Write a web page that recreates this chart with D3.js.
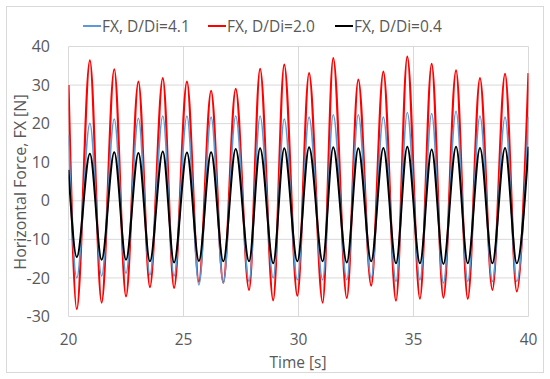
<!DOCTYPE html>
<html>
<head>
<meta charset="utf-8">
<script src="https://cdn.jsdelivr.net/npm/d3@7"></script>
<style>
  body { margin: 0; background: #fff; }
  svg text { font-family: "Open Sans", sans-serif; fill: #595959; }
</style>
</head>
<body>
<div id="chart"></div>
<script>
// Times of start, troughs, peaks (alternating) and end
let times = [20, 20.36, 20.93, 21.44, 21.99, 22.5, 23.04, 23.54, 24.1, 24.59, 25.15,
    25.67, 26.2, 26.73, 27.27, 27.85, 28.33, 28.9, 29.38, 29.95, 30.46, 31.05, 31.51,
    32.1, 32.6, 33.16, 33.69, 34.24, 34.73, 35.28, 35.79, 36.3, 36.85, 37.36, 37.89,
    38.43, 38.98, 39.49, 40];

let fx41 = [17, -20, 20.1, -19.5, 21.2, -18.8, 21.4, -19.2, 22, -19.5, 22,
    -21.8, 21.7, -21.3, 22, -20.9, 22, -20, 21.2, -20.5, 21.7, -20.5, 22.3,
    -20.5, 22.3, -20, 21.7, -20.9, 22.9, -20.5, 22.6, -21.3, 23.2, -20.9, 22,
    -20.9, 21.7, -20.9, 21.8];

let fx20 = [30, -28.1, 36.4, -26.4, 34.1, -24.8, 30.9, -22.4, 31.8, -22.6, 30.9,
    -21, 28.5, -21.2, 29, -23.1, 34.2, -25.8, 35.3, -24.6, 33.1, -26.4, 37,
    -25.2, 31.4, -22, 33.5, -25.9, 37.4, -25.4, 35.5, -25.1, 33.8, -25.4, 31.8,
    -23.1, 32.9, -23.5, 33.1];

let fx04 = [8, -14.6, 12.2, -15.3, 12.6, -15.3, 12.4, -15.7, 12.8, -16, 12.5,
    -15.6, 12.6, -15.7, 13.4, -15.7, 13.6, -16.2, 13.6, -15.7, 13.9, -15.7, 13.9,
    -16, 13.6, -15.7, 13.7, -16.2, 14, -16.2, 13.3, -16.4, 14, -16.2, 13.7,
    -16.2, 13.7, -16.2, 14];

let seriesNames = ["FX, D/Di=4.1", "FX, D/Di=2.0", "FX, D/Di=0.4"];
let seriesColors = ["#5b9bd5", "#ff0000", "#000000"];
let xTicks = [20, 25, 30, 35, 40];
let yTicks = [-30, -20, -10, 0, 10, 20, 30, 40];

let width = 550, height = 379;
let plotLeft = 68.5, plotRight = 528.5, plotTop = 46.5, plotBottom = 316.5;

let svg = d3.select("#chart").append("svg")
    .attr("width", width)
    .attr("height", height);

// outer chart border
svg.append("rect")
    .attr("x", 6.5).attr("y", 6.5)
    .attr("width", 537).attr("height", 366)
    .attr("fill", "none")
    .attr("stroke", "#d9d9d9");

let x = d3.scaleLinear().domain([20, 40]).range([plotLeft, plotRight]);
let y = d3.scaleLinear().domain([-30, 40]).range([plotBottom, plotTop]);

// gridlines
svg.append("g").selectAll("line")
    .data(yTicks)
    .enter().append("line")
    .attr("x1", plotLeft).attr("x2", plotRight)
    .attr("y1", d => y(d)).attr("y2", d => y(d))
    .attr("stroke", "#d9d9d9");

svg.append("g").selectAll("line")
    .data(xTicks)
    .enter().append("line")
    .attr("x1", d => x(d)).attr("x2", d => x(d))
    .attr("y1", plotTop).attr("y2", plotBottom)
    .attr("stroke", "#d9d9d9");

// tick labels
svg.append("g").selectAll("text")
    .data(yTicks)
    .enter().append("text")
    .attr("x", 50)
    .attr("y", d => y(d))
    .attr("dy", "0.35em")
    .attr("text-anchor", "end")
    .style("font-size", "16px")
    .text(d => d);

svg.append("g").selectAll("text")
    .data(xTicks)
    .enter().append("text")
    .attr("x", d => x(d))
    .attr("y", 340)
    .attr("dy", "0.35em")
    .attr("text-anchor", "middle")
    .style("font-size", "15.5px")
    .text(d => d);

// axis titles
svg.append("text")
    .attr("x", 298).attr("y", 363)
    .attr("dy", "0.35em")
    .attr("text-anchor", "middle")
    .style("font-size", "15.5px")
    .text("Time [s]");

svg.append("text")
    .attr("transform", "translate(20,182) rotate(-90)")
    .attr("dy", "0.35em")
    .attr("text-anchor", "middle")
    .style("font-size", "16px")
    .text("Horizontal Force, FX [N]");

// clip
svg.append("clipPath").attr("id", "plot-clip")
    .append("rect")
    .attr("x", plotLeft).attr("y", plotTop - 5)
    .attr("width", plotRight - plotLeft).attr("height", plotBottom - plotTop + 10);

let line = d3.line()
    .x((d, i) => x(times[i]))
    .y(d => y(d))
    .curve(d3.curveMonotoneX);

let allSeries = [fx41, fx20, fx04];
let widths = [1.6, 2.2, 2];
let order = [1, 0, 2]; // red drawn below blue, black on top

let g = svg.append("g").attr("clip-path", "url(#plot-clip)");
order.forEach(function(k) {
    g.append("path")
        .datum(allSeries[k])
        .attr("d", line)
        .attr("fill", "none")
        .attr("stroke", seriesColors[k])
        .attr("stroke-width", widths[k])
        .attr("stroke-linejoin", "round");
});

// legend
let legendX = [83, 208, 335];
let legend = svg.append("g");
seriesNames.forEach(function(name, i) {
    legend.append("line")
        .attr("x1", legendX[i]).attr("x2", legendX[i] + 18)
        .attr("y1", 26).attr("y2", 26)
        .attr("stroke", seriesColors[i])
        .attr("stroke-width", 2);
    legend.append("text")
        .attr("x", legendX[i] + 19)
        .attr("y", 27)
        .attr("dy", "0.35em")
        .style("font-size", "15.5px")
        .text(name);
});
</script>
</body>
</html>
